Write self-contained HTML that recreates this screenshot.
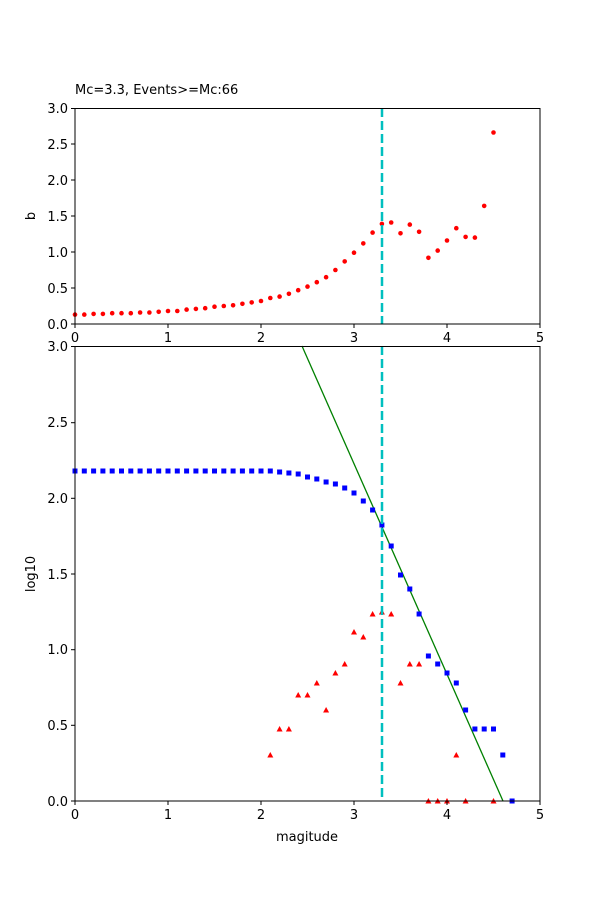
<!DOCTYPE html>
<html><head><meta charset="utf-8"><style>html,body{margin:0;padding:0;background:#fff}svg{display:block}text{font-family:"DejaVu Sans","Liberation Sans",sans-serif;font-size:13px;fill:#000}</style></head><body>
<svg width="600" height="900" viewBox="0 0 600 900" xmlns="http://www.w3.org/2000/svg">
<text x="75" y="94">Mc=3.3, Events&gt;=Mc:66</text>
<!-- top axes -->
<g fill="red">
<circle cx="75" cy="314.6" r="2.3"/><circle cx="84.3" cy="314.6" r="2.3"/><circle cx="93.6" cy="313.9" r="2.3"/><circle cx="102.9" cy="313.9" r="2.3"/><circle cx="112.2" cy="313.2" r="2.3"/><circle cx="121.5" cy="313.2" r="2.3"/><circle cx="130.8" cy="313.2" r="2.3"/><circle cx="140.1" cy="312.5" r="2.3"/><circle cx="149.4" cy="312.5" r="2.3"/><circle cx="158.7" cy="311.8" r="2.3"/><circle cx="168" cy="311" r="2.3"/><circle cx="177.3" cy="311" r="2.3"/><circle cx="186.6" cy="309.6" r="2.3"/><circle cx="195.9" cy="308.9" r="2.3"/><circle cx="205.2" cy="308.2" r="2.3"/><circle cx="214.5" cy="306.7" r="2.3"/><circle cx="223.8" cy="306" r="2.3"/><circle cx="233.1" cy="305.3" r="2.3"/><circle cx="242.4" cy="303.8" r="2.3"/><circle cx="251.7" cy="302.4" r="2.3"/><circle cx="261" cy="301" r="2.3"/><circle cx="270.3" cy="298" r="2.3"/><circle cx="279.6" cy="296.6" r="2.3"/><circle cx="288.9" cy="293.8" r="2.3"/><circle cx="298.2" cy="290.2" r="2.3"/><circle cx="307.5" cy="286.6" r="2.3"/><circle cx="316.8" cy="282.2" r="2.3"/><circle cx="326.1" cy="277.2" r="2.3"/><circle cx="335.4" cy="270" r="2.3"/><circle cx="344.7" cy="261.4" r="2.3"/><circle cx="354" cy="252.7" r="2.3"/><circle cx="363.3" cy="243.4" r="2.3"/><circle cx="372.6" cy="232.6" r="2.3"/><circle cx="381.9" cy="223.9" r="2.3"/><circle cx="391.2" cy="222.5" r="2.3"/><circle cx="400.5" cy="233.3" r="2.3"/><circle cx="409.8" cy="224.6" r="2.3"/><circle cx="419.1" cy="231.8" r="2.3"/><circle cx="428.4" cy="257.8" r="2.3"/><circle cx="437.7" cy="250.6" r="2.3"/><circle cx="447" cy="240.5" r="2.3"/><circle cx="456.3" cy="228.2" r="2.3"/><circle cx="465.6" cy="236.9" r="2.3"/><circle cx="474.9" cy="237.6" r="2.3"/><circle cx="484.2" cy="205.9" r="2.3"/><circle cx="493.5" cy="132.5" r="2.3"/>
</g>
<line x1="382" y1="108" x2="382" y2="324" stroke="#00bfbf" stroke-width="2.5" stroke-dasharray="9,4"/>
<rect x="75" y="108.5" width="465" height="215.5" fill="none" stroke="#000" stroke-width="1"/>
<g stroke="#000">
<line x1="71" y1="108.5" x2="75" y2="108.5"/><line x1="71" y1="144" x2="75" y2="144"/><line x1="71" y1="180" x2="75" y2="180"/><line x1="71" y1="216" x2="75" y2="216"/><line x1="71" y1="252" x2="75" y2="252"/><line x1="71" y1="288" x2="75" y2="288"/><line x1="71" y1="324" x2="75" y2="324"/>
<line x1="75" y1="324" x2="75" y2="328"/><line x1="168" y1="324" x2="168" y2="328"/><line x1="261" y1="324" x2="261" y2="328"/><line x1="354" y1="324" x2="354" y2="328"/><line x1="447" y1="324" x2="447" y2="328"/><line x1="540" y1="324" x2="540" y2="328"/>
</g>
<g text-anchor="end">
<text x="68" y="113">3.0</text><text x="68" y="149">2.5</text><text x="68" y="185">2.0</text><text x="68" y="221">1.5</text><text x="68" y="257">1.0</text><text x="68" y="293">0.5</text><text x="68" y="329">0.0</text>
</g>
<g text-anchor="middle">
<text x="75" y="342">0</text><text x="168" y="342">1</text><text x="261" y="342">2</text><text x="354" y="342">3</text><text x="447" y="342">4</text><text x="540" y="342">5</text>
</g>
<text transform="translate(35,216) rotate(-90)" text-anchor="middle">b</text>
<!-- bottom axes -->
<line x1="302" y1="346" x2="503" y2="801" stroke="green" stroke-width="1.3"/>
<g fill="blue">
<rect x="72.5" y="468.5" width="5" height="5"/><rect x="81.8" y="468.5" width="5" height="5"/><rect x="91.1" y="468.5" width="5" height="5"/><rect x="100.4" y="468.5" width="5" height="5"/><rect x="109.7" y="468.5" width="5" height="5"/><rect x="119" y="468.5" width="5" height="5"/><rect x="128.3" y="468.5" width="5" height="5"/><rect x="137.6" y="468.5" width="5" height="5"/><rect x="146.9" y="468.5" width="5" height="5"/><rect x="156.2" y="468.5" width="5" height="5"/><rect x="165.5" y="468.5" width="5" height="5"/><rect x="174.8" y="468.5" width="5" height="5"/><rect x="184.1" y="468.5" width="5" height="5"/><rect x="193.4" y="468.5" width="5" height="5"/><rect x="202.7" y="468.5" width="5" height="5"/><rect x="212" y="468.5" width="5" height="5"/><rect x="221.3" y="468.5" width="5" height="5"/><rect x="230.6" y="468.5" width="5" height="5"/><rect x="239.9" y="468.5" width="5" height="5"/><rect x="249.2" y="468.5" width="5" height="5"/><rect x="258.5" y="468.5" width="5" height="5"/><rect x="267.8" y="468.5" width="5" height="5"/>
<rect x="277.1" y="469.5" width="5" height="5"/><rect x="286.4" y="470.5" width="5" height="5"/><rect x="295.7" y="471.5" width="5" height="5"/><rect x="305" y="474.5" width="5" height="5"/><rect x="314.3" y="476.5" width="5" height="5"/><rect x="323.6" y="479.5" width="5" height="5"/><rect x="332.9" y="481.5" width="5" height="5"/><rect x="342.2" y="485.5" width="5" height="5"/><rect x="351.5" y="490.5" width="5" height="5"/><rect x="360.8" y="498.5" width="5" height="5"/><rect x="370.1" y="507.5" width="5" height="5"/><rect x="379.4" y="522.5" width="5" height="5"/><rect x="388.7" y="543.5" width="5" height="5"/><rect x="398" y="572.5" width="5" height="5"/><rect x="407.3" y="586.5" width="5" height="5"/><rect x="416.6" y="611.5" width="5" height="5"/><rect x="425.9" y="653.5" width="5" height="5"/><rect x="435.2" y="661.5" width="5" height="5"/><rect x="444.5" y="670.5" width="5" height="5"/><rect x="453.8" y="680.5" width="5" height="5"/><rect x="463.1" y="707.5" width="5" height="5"/><rect x="472.4" y="726.5" width="5" height="5"/><rect x="481.7" y="726.5" width="5" height="5"/><rect x="491" y="726.5" width="5" height="5"/><rect x="500.3" y="752.5" width="5" height="5"/><rect x="509.6" y="798.5" width="5" height="5"/>
</g>
<g fill="red">
<polygon points="270.3,752 267.3,757.5 273.3,757.5"/><polygon points="279.6,726 276.6,731.5 282.6,731.5"/><polygon points="288.9,726 285.9,731.5 291.9,731.5"/><polygon points="298.2,692 295.2,697.5 301.2,697.5"/><polygon points="307.5,692 304.5,697.5 310.5,697.5"/><polygon points="316.8,680 313.8,685.5 319.8,685.5"/><polygon points="326.1,707 323.1,712.5 329.1,712.5"/><polygon points="335.4,670 332.4,675.5 338.4,675.5"/><polygon points="344.7,661 341.7,666.5 347.7,666.5"/><polygon points="354,629 351,634.5 357,634.5"/><polygon points="363.3,634 360.3,639.5 366.3,639.5"/><polygon points="372.6,611 369.6,616.5 375.6,616.5"/><polygon points="381.9,609 378.9,614.5 384.9,614.5"/><polygon points="391.2,611 388.2,616.5 394.2,616.5"/><polygon points="400.5,680 397.5,685.5 403.5,685.5"/><polygon points="409.8,661 406.8,666.5 412.8,666.5"/><polygon points="419.1,661 416.1,666.5 422.1,666.5"/><polygon points="428.4,798 425.4,803.5 431.4,803.5"/><polygon points="437.7,798 434.7,803.5 440.7,803.5"/><polygon points="447,798 444,803.5 450,803.5"/><polygon points="456.3,752 453.3,757.5 459.3,757.5"/><polygon points="465.6,798 462.6,803.5 468.6,803.5"/><polygon points="493.5,798 490.5,803.5 496.5,803.5"/>
</g>
<line x1="382" y1="346" x2="382" y2="801" stroke="#00bfbf" stroke-width="2.5" stroke-dasharray="9,4"/>
<rect x="75" y="346.5" width="465" height="454.5" fill="none" stroke="#000" stroke-width="1"/>
<g stroke="#000">
<line x1="71" y1="346.5" x2="75" y2="346.5"/><line x1="71" y1="422.7" x2="75" y2="422.7"/><line x1="71" y1="498.3" x2="75" y2="498.3"/><line x1="71" y1="574" x2="75" y2="574"/><line x1="71" y1="649.7" x2="75" y2="649.7"/><line x1="71" y1="725.3" x2="75" y2="725.3"/><line x1="71" y1="801" x2="75" y2="801"/>
<line x1="75" y1="801" x2="75" y2="805"/><line x1="168" y1="801" x2="168" y2="805"/><line x1="261" y1="801" x2="261" y2="805"/><line x1="354" y1="801" x2="354" y2="805"/><line x1="447" y1="801" x2="447" y2="805"/><line x1="540" y1="801" x2="540" y2="805"/>
</g>
<g text-anchor="end">
<text x="68" y="351">3.0</text><text x="68" y="427">2.5</text><text x="68" y="503">2.0</text><text x="68" y="579">1.5</text><text x="68" y="654">1.0</text><text x="68" y="730">0.5</text><text x="68" y="806">0.0</text>
</g>
<g text-anchor="middle">
<text x="75" y="819">0</text><text x="168" y="819">1</text><text x="261" y="819">2</text><text x="354" y="819">3</text><text x="447" y="819">4</text><text x="540" y="819">5</text>
<text x="307" y="841">magitude</text>
</g>
<text transform="translate(35,574) rotate(-90)" text-anchor="middle">log10</text>
</svg>
</body></html>
